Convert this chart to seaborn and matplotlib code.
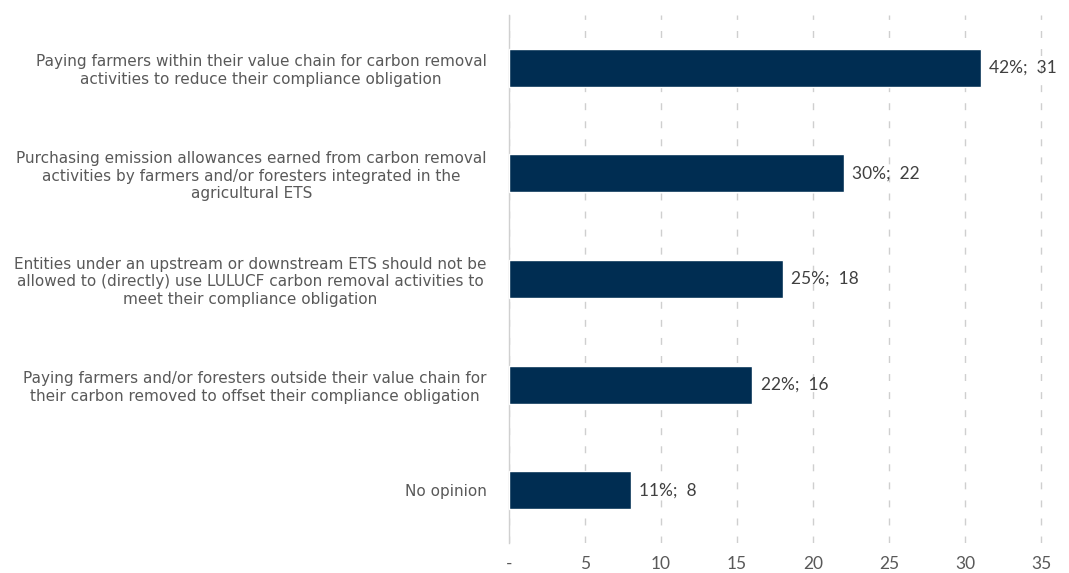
import matplotlib
matplotlib.use('Agg')
import matplotlib.pyplot as plt
import seaborn as sns
import pandas as pd

# Data
categories = [
    'Paying farmers within their value chain for carbon removal\nactivities to reduce their compliance obligation',
    'Purchasing emission allowances earned from carbon removal\nactivities by farmers and/or foresters integrated in the\nagricultural ETS',
    'Entities under an upstream or downstream ETS should not be\nallowed to (directly) use LULUCF carbon removal activities to\nmeet their compliance obligation',
    'Paying farmers and/or foresters outside their value chain for\ntheir carbon removed to offset their compliance obligation',
    'No opinion',
]
counts = [31, 22, 18, 16, 8]
shares = [42, 30, 25, 22, 11]
xticks = [0, 5, 10, 15, 20, 25, 30, 35]
xtick_labels = ['-', '5', '10', '15', '20', '25', '30', '35']

df = pd.DataFrame({'label': categories, 'count': counts, 'share': shares})

sns.set_theme(style='white')
plt.rcParams['font.family'] = ['DejaVu Sans']

fig = plt.figure(figsize=(10.69, 5.73), dpi=100)
ax = fig.add_axes([0.476, 0.052, 0.501, 0.922])

sns.barplot(data=df, x='count', y='label', color='#002d52', width=0.36,
            saturation=1, ax=ax, zorder=3)

for i, row in df.iterrows():
    ax.text(row['count'] + 0.55, i, f"{row['share']}%;  {row['count']}",
            va='center', ha='left', fontsize=12.5, color='#404040',
            family='Lato', zorder=4)

ax.set_xlim(0, 35.2)
ax.set_ylim(4.5, -0.5)
ax.set_xticks(xticks)
ax.set_xticklabels(xtick_labels, fontsize=12.5, color='#595959', family='Lato')
ax.tick_params(axis='x', length=0, pad=9)
ax.tick_params(axis='y', length=0, pad=16)
for lbl in ax.get_yticklabels():
    lbl.set_fontsize(11)
    lbl.set_color('#595959')
    lbl.set_multialignment('center')

ax.xaxis.grid(True, linestyle=(0, (5, 8)), color='#cfcfcf', linewidth=1, zorder=0)
ax.set_xlabel('')
ax.set_ylabel('')
for s in ['top', 'right', 'bottom']:
    ax.spines[s].set_visible(False)
ax.spines['left'].set_color('#d0d0d0')
ax.spines['left'].set_linewidth(1)

fig.savefig('out.png', dpi=100)
